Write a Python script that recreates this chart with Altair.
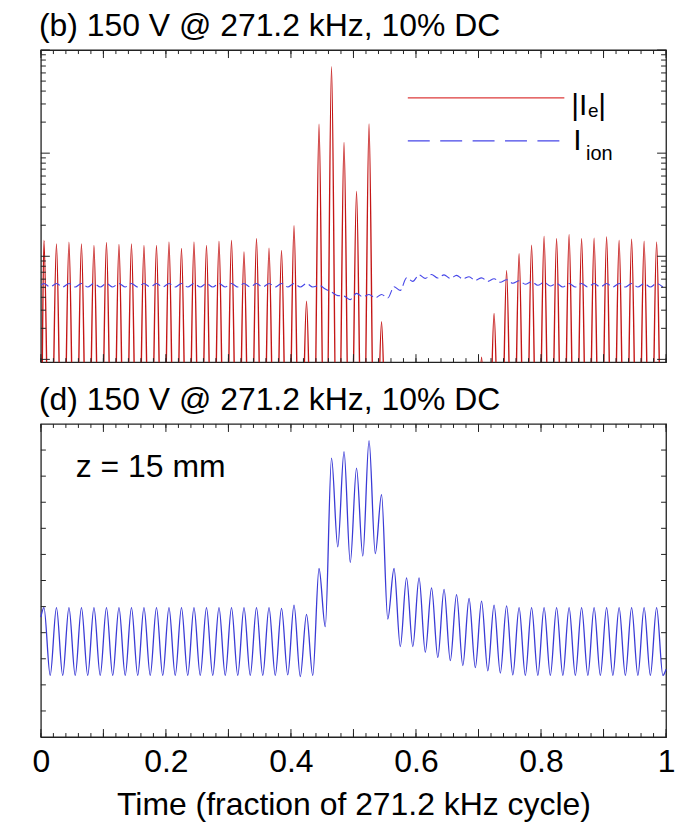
import altair as alt
import numpy as np
import pandas as pd

# ---------------- data ----------------
N_CYCLES = 50          # 13.56 MHz RF cycles inside one 271.2 kHz pulse period
PHASE = 0.0049         # time of first RF maximum (fraction of pulse cycle)
PERIOD = 0.02

# (b) |Ie| spike height per RF cycle (None = no spike)
ie_peak = [14.2, 13.2, 13.7, 13.2, 12.7, 13.6, 13.0, 13.2, 12.7, 12.7,
           13.8, 11.9, 13.8, 12.7, 14.0, 14.2, 11.0, 14.8, 12.0, 11.4,
           19.8, 3.67, 191, 690, 127, 42.6, 192, 2.32, None, None,
           None, None, None, None, None, 1.05, 2.79, 7.26, 10.6, 12.8,
           15.6, 14.8, 16.2, 14.8, 15.0, 15.4, 14.2, 14.6, 14.0, 13.8]
ie_floor = 0.1         # |Ie| between spikes (below the plotted range)
spike_half = 0.008     # half width of a spike (fraction of cycle)

# (b) Iion level per RF cycle and its ripple ratio
ion_level = [5.24] * 22 + [5.01, 4.32, 3.95, 4.20, 4.10, 4.10, 4.86, 5.94,
                           6.35, 6.40, 6.35, 6.27, 6.08, 5.94, 5.82, 5.69,
                           5.56, 5.44, 5.36] + [5.24] * 9
ion_ripple = 1.04

# (d) z = 15 mm signal: maxima and following minima per RF cycle
d_peak = [4.96] * 19 + [4.93, 5.06, 4.70, 6.46, 10.69, 10.94, 10.31, 11.36,
                        9.29, 6.46, 6.10, 6.10, 5.72, 5.66, 5.46, 5.31, 5.21,
                        5.06, 5.03] + [4.96] * 12
d_trough = [2.36] * 19 + [2.38, 2.32, 2.36, 4.23, 7.29, 6.69, 6.94, 7.03,
                          4.52, 3.47, 3.47, 3.25, 3.05, 2.93, 2.74, 2.66, 2.54,
                          2.45, 2.38] + [2.36] * 12
d_start, d_end = 4.6, 2.6

x_labels = [0, 0.2, 0.4, 0.6, 0.8, 1]
title_b = "(b) 150 V @ 271.2 kHz, 10% DC"
title_d = "(d) 150 V @ 271.2 kHz, 10% DC"
x_title = "Time (fraction of 271.2 kHz cycle)"
annot = "z = 15 mm"

# ---------------- build tables ----------------
t_max = PHASE + PERIOD * np.arange(N_CYCLES)

ie_rows = [(0.0, ie_floor)]
for t, p in zip(t_max, ie_peak):
    if p is None:
        continue
    ie_rows += [(t - spike_half, ie_floor), (t, p), (t + spike_half, ie_floor)]
ie_rows.append((1.0, ie_floor))
ie_df = pd.DataFrame(ie_rows, columns=["t", "v"])

ion_rows = [(0.0, ion_level[0])]
for t, lv in zip(t_max, ion_level):
    ion_rows += [(t, lv * ion_ripple), (t + PERIOD / 2, lv / ion_ripple)]
ion_df = pd.DataFrame([r for r in ion_rows if r[0] <= 1.0], columns=["t", "v"])

d_rows = [(0.0, d_start)]
for t, p, q in zip(t_max, d_peak, d_trough):
    d_rows += [(t, p), (t + PERIOD / 2, q)]
d_rows = [r for r in d_rows if r[0] <= 1.0] + [(1.0, d_end)]
d_df = pd.DataFrame(d_rows, columns=["t", "v"])

# ---------------- geometry / style ----------------
W, H1, H2 = 627, 313, 314
FONT = "Liberation Sans"
FS = 32
RED = "#c41616"
BLUE = "#3a3ad6"
DBLUE = "#4646e8"
FRAME = "#222222"

xs = alt.Scale(domain=[0, 1], nice=False, zero=False)
ys1 = alt.Scale(type="log", domain=[0.94, 1000], nice=False)
ys2 = alt.Scale(domain=[0, 12], nice=False, zero=False)

x_axis_d = alt.Axis(values=x_labels, format="~g", title=x_title,
                    grid=False, domain=False, ticks=False, tickSize=0,
                    labelPadding=10, labelFont=FONT, labelFontSize=FS,
                    labelColor="black", labelFlush=False,
                    titleFont=FONT, titleFontSize=FS,
                    titleFontWeight="normal", titleColor="black",
                    titlePadding=12)

one = pd.DataFrame({"a": [0]})
minor_x = pd.DataFrame({"tk": np.round(np.arange(0, 1.0001, 0.02), 4)})
major_x = pd.DataFrame({"tk": np.round(np.arange(0, 1.0001, 0.1), 4)})
log_minor = pd.DataFrame({"yv": [m * 10 ** e for e in range(0, 3) for m in range(2, 10)]})
log_major = pd.DataFrame({"yv": [1, 10, 100, 1000]})
lin_ticks = pd.DataFrame({"yv": list(range(1, 12))})


def xticks(H, axis):
    layers = []
    for df, ln in ((minor_x, 4), (major_x, 8)):
        for y0, y1 in ((H, H - ln), (0, ln)):
            layers.append(
                alt.Chart(df).mark_rule(color=FRAME, strokeWidth=1).encode(
                    x=alt.X("tk:Q", scale=xs, axis=axis),
                    y=alt.value(y0), y2=alt.value(y1)))
    return layers


def yticks(df, scale, ln):
    return [
        alt.Chart(df).mark_rule(color=FRAME, strokeWidth=1).encode(
            y=alt.Y("yv:Q", scale=scale, axis=None),
            x=alt.value(x0), x2=alt.value(x1))
        for x0, x1 in ((0, ln), (W, W - ln))
    ]


def text(s, x, y, size=FS, align="left", baseline="alphabetic"):
    return alt.Chart(one).mark_text(
        text=s, font=FONT, fontSize=size, align=align, baseline=baseline,
        color="black").encode(x=alt.value(x), y=alt.value(y))


# ---------------- panel (b) ----------------
ie_line = alt.Chart(ie_df).mark_line(
    color=RED, strokeWidth=1.4, clip=True, interpolate="monotone").encode(
    x=alt.X("t:Q", scale=xs, axis=None),
    y=alt.Y("v:Q", scale=ys1, axis=None))

ion_line = alt.Chart(ion_df).mark_line(
    color=DBLUE, strokeWidth=1.1, clip=True, interpolate="monotone",
    strokeDash=[9, 4]).encode(
    x=alt.X("t:Q", scale=xs, axis=None),
    y=alt.Y("v:Q", scale=ys1, axis=None))

leg_red = alt.Chart(one).mark_rule(color="#dd3a3a", strokeWidth=1.3).encode(
    x=alt.value(368), x2=alt.value(525), y=alt.value(48))
leg_blue = alt.Chart(one).mark_rule(color=DBLUE, strokeWidth=1.3,
                                    strokeDash=[22, 10.5]).encode(
    x=alt.value(368), x2=alt.value(525), y=alt.value(91))

legend_text = [
    text("|I", 532, 65, size=30),
    text("e", 554, 67, size=19, align="center"),
    text("|", 563, 65, size=30, align="center"),
    text("I", 538, 100, size=30, align="center"),
    text("ion", 560, 110, size=20, align="center"),
]

panel_b = alt.layer(
    ie_line, ion_line, *xticks(H1, None),
    *yticks(log_minor, ys1, 5), *yticks(log_major, ys1, 9),
    leg_red, leg_blue, *legend_text,
    text(title_b, -2, -14),
).properties(width=W, height=H1)

# ---------------- panel (d) ----------------
d_line = alt.Chart(d_df).mark_line(
    color=BLUE, strokeWidth=1.3, interpolate="monotone").encode(
    x=alt.X("t:Q", scale=xs, axis=x_axis_d),
    y=alt.Y("v:Q", scale=ys2, axis=None))

panel_d = alt.layer(
    d_line, *xticks(H2, x_axis_d), *yticks(lin_ticks, ys2, 5),
    text(annot, 35, 53),
    text(title_d, -2, -14),
).properties(width=W, height=H2)

chart = alt.vconcat(panel_b, panel_d, spacing=19).properties(
    padding={"left": 31, "top": 8, "right": 8, "bottom": 0},
    background="white",
).configure_view(stroke=FRAME, strokeWidth=1.3)

chart.save("out.html", embed_options={"renderer": "svg", "actions": False})
